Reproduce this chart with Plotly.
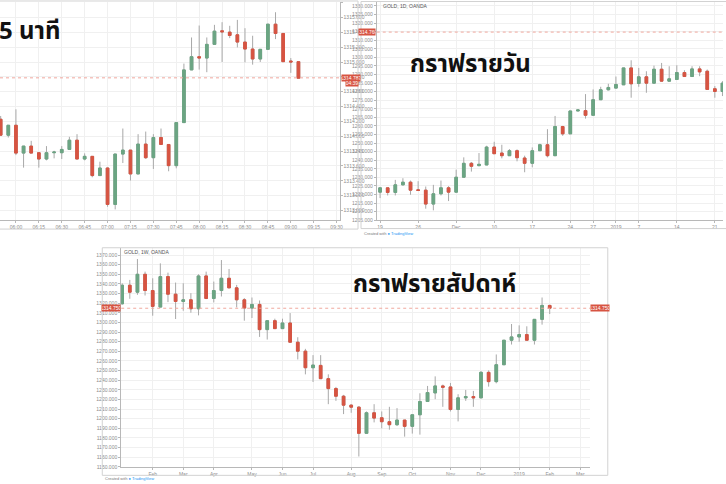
import pandas as pd
import plotly.graph_objects as go

W, H = 726, 484

# ---------------- 5-minute chart ----------------
m5_first = "2019-02-05 05:50"
m5_open = [1314.229, 1314.014, 1314.148, 1313.773, 1313.867, 1313.778, 1313.693, 1313.778, 1313.778, 1313.822,
           1313.947, 1313.693, 1313.729, 1313.470, 1313.572, 1313.081, 1313.760, 1313.813, 1313.492, 1313.894,
           1313.711, 1313.983, 1313.889, 1313.604, 1314.184, 1314.894, 1315.072, 1315.054, 1315.238, 1315.421,
           1315.403, 1315.367, 1315.269, 1315.175, 1315.041, 1315.171, 1315.510, 1315.385, 1315.014, 1315.005]
m5_high = [1314.273, 1314.148, 1314.363, 1313.867, 1313.938, 1313.778, 1313.867, 1313.804, 1313.867, 1313.992,
           1314.028, 1313.769, 1313.729, 1313.657, 1313.581, 1313.760, 1314.104, 1313.813, 1314.028, 1314.063,
           1314.028, 1314.104, 1313.889, 1314.184, 1314.979, 1315.331, 1315.492, 1315.331, 1315.501, 1315.537,
           1315.488, 1315.568, 1315.456, 1315.354, 1315.171, 1315.510, 1315.671, 1315.385, 1315.054, 1315.005]
m5_low = [1314.005, 1313.983, 1313.746, 1313.577, 1313.773, 1313.577, 1313.675, 1313.702, 1313.693, 1313.822,
          1313.693, 1313.675, 1313.447, 1313.470, 1313.050, 1313.014, 1313.639, 1313.403, 1313.492, 1313.693,
          1313.559, 1313.889, 1313.528, 1313.568, 1314.184, 1314.894, 1314.898, 1314.863, 1315.238, 1315.001,
          1315.322, 1315.197, 1314.996, 1314.965, 1315.001, 1315.171, 1315.309, 1315.005, 1314.854, 1314.782]
m5_close = [1314.014, 1314.148, 1313.773, 1313.867, 1313.773, 1313.693, 1313.778, 1313.787, 1313.822, 1313.947,
            1313.693, 1313.729, 1313.470, 1313.572, 1313.081, 1313.760, 1313.813, 1313.492, 1313.894, 1313.711,
            1313.983, 1313.889, 1313.604, 1314.184, 1314.894, 1315.072, 1315.054, 1315.238, 1315.416, 1315.407,
            1315.358, 1315.269, 1315.175, 1315.041, 1315.171, 1315.510, 1315.385, 1315.005, 1315.001, 1314.782]
m5_last_price = 1314.787
m5_countdown = "04:39"
m5_title = "5 นาที"

# ---------------- daily chart ----------------
d1_first = "2018-11-19"
d1_last = "2019-01-22"
d1_closed_days = ["2019-01-01"]
d1_open = [1221.42, 1223.93, 1221.23, 1225.67, 1227.22, 1222.77, 1222.58, 1214.47, 1220.46, 1223.93,
           1221.42, 1230.12, 1238.23, 1236.88, 1237.26, 1247.70, 1244.22, 1242.67, 1245.57, 1241.32,
           1238.23, 1245.57, 1249.05, 1242.67, 1259.68, 1255.42, 1268.76, 1268.95, 1266.24, 1275.32,
           1281.12, 1282.09, 1284.02, 1293.87, 1284.79, 1288.66, 1284.98, 1293.10, 1286.14, 1287.11,
           1291.17, 1288.85, 1293.29, 1291.94, 1281.70, 1280.15]
d1_high = [1223.93, 1223.93, 1228.57, 1229.54, 1228.18, 1227.80, 1224.71, 1225.67, 1228.18, 1224.90,
           1234.56, 1241.71, 1239.00, 1244.22, 1248.47, 1250.79, 1249.05, 1246.54, 1246.34, 1242.67,
           1247.50, 1249.63, 1258.13, 1265.86, 1260.06, 1268.76, 1269.53, 1278.61, 1281.31, 1282.86,
           1284.60, 1288.85, 1293.87, 1298.32, 1293.87, 1291.94, 1295.22, 1296.77, 1294.84, 1295.42,
           1292.52, 1294.84, 1294.84, 1292.91, 1283.25, 1286.14]
d1_low = [1217.94, 1219.49, 1219.49, 1225.29, 1219.88, 1222.39, 1211.76, 1210.80, 1219.49, 1216.21,
          1221.42, 1230.12, 1233.40, 1236.49, 1237.26, 1243.83, 1241.13, 1242.67, 1239.39, 1233.01,
          1235.91, 1245.57, 1241.71, 1242.67, 1254.27, 1255.42, 1268.76, 1264.31, 1266.24, 1275.32,
          1280.73, 1282.09, 1284.02, 1276.48, 1282.86, 1279.38, 1284.98, 1286.14, 1286.14, 1287.11,
          1288.85, 1288.85, 1289.04, 1281.31, 1276.48, 1277.45]
d1_close = [1223.93, 1221.23, 1225.67, 1227.22, 1222.58, 1222.39, 1214.47, 1220.46, 1223.93, 1221.42,
            1230.12, 1238.23, 1236.49, 1237.65, 1247.70, 1243.83, 1242.67, 1245.57, 1241.51, 1238.23,
            1245.57, 1249.05, 1242.67, 1259.68, 1255.42, 1268.76, 1269.34, 1266.24, 1275.32, 1281.12,
            1282.47, 1284.21, 1293.87, 1284.60, 1288.66, 1284.98, 1293.10, 1286.14, 1287.50, 1291.17,
            1288.85, 1293.29, 1291.55, 1281.31, 1280.15, 1284.98]
d1_tick_dates = ["2018-11-19", "2018-11-26", "2018-12-03", "2018-12-10", "2018-12-17", "2018-12-24",
                 "2018-12-27", "2019-01-02", "2019-01-07", "2019-01-14", "2019-01-21"]
d1_tick_text = ["19", "26", "Dec", "10", "17", "24", "27", "2019", "7", "14", "21"]
d1_last_price = 1314.76
d1_header = "GOLD, 1D, OANDA"
d1_title = "กราฟรายวัน"

# ---------------- weekly chart ----------------
w1_first = "2018-01-08"
w1_open = [1319.39, 1338.67, 1331.44, 1350.03, 1333.16, 1315.95, 1347.62, 1329.37, 1321.80, 1323.52,
           1314.23, 1348.31, 1324.90, 1333.16, 1345.90, 1335.92, 1323.52, 1314.92, 1318.70, 1292.54,
           1301.83, 1293.57, 1299.42, 1279.45, 1270.16, 1252.94, 1255.35, 1241.58, 1231.26, 1223.34,
           1214.04, 1211.98, 1184.78, 1206.12, 1200.96, 1196.83, 1193.73, 1198.55, 1192.01, 1204.06,
           1217.83, 1226.78, 1234.01, 1232.98, 1209.57, 1221.62, 1222.99, 1221.62, 1248.13, 1238.49,
           1256.04, 1281.52, 1284.96, 1287.37, 1281.52, 1303.21, 1317.67]
w1_high = [1340.74, 1344.18, 1365.87, 1352.79, 1345.90, 1361.39, 1351.75, 1341.42, 1340.74, 1330.41,
           1350.03, 1352.79, 1342.46, 1364.84, 1355.54, 1339.01, 1325.24, 1325.93, 1322.83, 1301.83,
           1303.90, 1303.90, 1309.75, 1284.62, 1272.57, 1266.03, 1266.03, 1246.06, 1232.98, 1224.71,
           1215.07, 1213.01, 1207.50, 1215.07, 1207.50, 1212.32, 1210.94, 1198.55, 1204.06, 1226.44,
           1234.01, 1243.99, 1235.39, 1237.11, 1225.40, 1229.88, 1228.85, 1249.50, 1250.19, 1266.72,
           1281.52, 1298.39, 1297.01, 1295.98, 1303.21, 1325.93, 1318.36]
w1_low = [1318.50, 1324.56, 1328.69, 1328.00, 1307.00, 1315.95, 1321.11, 1303.55, 1312.16, 1310.10,
          1307.34, 1324.21, 1320.77, 1326.96, 1335.92, 1315.60, 1301.83, 1304.59, 1284.96, 1282.21,
          1293.57, 1293.57, 1279.45, 1261.55, 1246.06, 1238.14, 1241.58, 1215.07, 1218.52, 1204.75,
          1206.12, 1160.68, 1184.78, 1196.14, 1189.94, 1188.56, 1192.35, 1181.33, 1184.50, 1183.40,
          1217.83, 1220.24, 1212.32, 1207.50, 1197.17, 1218.52, 1212.32, 1221.62, 1233.32, 1236.76,
          1256.04, 1277.04, 1279.80, 1281.52, 1277.04, 1297.70, 1308.72]
w1_close = [1338.67, 1331.44, 1350.03, 1333.16, 1316.64, 1347.62, 1329.37, 1321.80, 1323.52, 1314.23,
            1348.31, 1324.90, 1333.16, 1345.90, 1335.92, 1323.52, 1314.92, 1318.70, 1292.54, 1301.83,
            1293.57, 1299.42, 1279.45, 1270.16, 1252.94, 1255.70, 1241.58, 1231.26, 1223.34, 1214.04,
            1211.98, 1184.78, 1206.12, 1200.61, 1196.83, 1193.73, 1198.55, 1192.01, 1204.06, 1217.83,
            1227.12, 1234.01, 1232.63, 1209.57, 1221.62, 1222.99, 1221.62, 1248.13, 1238.49, 1256.04,
            1281.52, 1284.96, 1287.37, 1281.52, 1303.21, 1317.67, 1314.75]
w1_tick_dates = ["2018-02-05", "2018-03-05", "2018-04-02", "2018-05-07", "2018-06-04", "2018-07-02",
                 "2018-08-06", "2018-09-03", "2018-10-01", "2018-11-05", "2018-12-03", "2019-01-07",
                 "2019-02-04", "2019-03-04"]
w1_tick_text = ["Feb", "Mar", "Apr", "May", "Jun", "Jul", "Aug", "Sep", "Oct", "Nov", "Dec", "2019",
                "Feb", "Mar"]
w1_last_price = 1314.75
w1_header = "GOLD, 1W, OANDA"
w1_title = "กราฟรายสัปดาห์"

credit_text = "Created with <span style='color:#2196f3'>&#9679; TradingView</span>"

# ---------------- styling ----------------
UP = "#6ba583"
DOWN = "#d75442"
WICK = "#a8a8a8"
GRID = "#f0f0f0"
AXIS = "#b8b8b8"
TICKFONT = dict(family="Liberation Sans, Arial, sans-serif", size=5, color="#8c8c8c")
PRICE_LINE = "#f0a89e"
THAI_FONT = dict(family="Noto Sans Thai, Loma, Garuda, Tahoma, Noto Sans, DejaVu Sans, sans-serif",
                 size=24, color="#111111")


def px_x(x):
    return x / W


def px_y(y):
    return 1 - y / H


def candles(x, o, h, l, c, xa, ya):
    body_hi = [max(a, b) for a, b in zip(o, c)]
    body_lo = [min(a, b) for a, b in zip(o, c)]
    wick = go.Candlestick(
        x=x, open=o, high=h, low=l, close=c, xaxis=xa, yaxis=ya,
        increasing=dict(line=dict(color=WICK, width=1), fillcolor=UP),
        decreasing=dict(line=dict(color=WICK, width=1), fillcolor=DOWN),
        hoverinfo="skip", showlegend=False)
    body = go.Candlestick(
        x=x, open=o, high=body_hi, low=body_lo, close=c, xaxis=xa, yaxis=ya,
        increasing=dict(line=dict(color=UP, width=1), fillcolor=UP),
        decreasing=dict(line=dict(color=DOWN, width=1), fillcolor=DOWN),
        hoverinfo="skip", showlegend=False)
    return [wick, body]


m5_x = pd.date_range(m5_first, periods=len(m5_open), freq="5min")
d1_days = pd.bdate_range(d1_first, d1_last)
d1_days = d1_days[~d1_days.isin(pd.to_datetime(d1_closed_days))]
d1_x = [d.strftime("%Y-%m-%d") for d in d1_days]
w1_x = pd.date_range(w1_first, periods=len(w1_open), freq="7D")

fig = go.Figure()
for t in candles(m5_x, m5_open, m5_high, m5_low, m5_close, "x", "y"):
    fig.add_trace(t)
for t in candles(d1_x, d1_open, d1_high, d1_low, d1_close, "x2", "y2"):
    fig.add_trace(t)
for t in candles(w1_x, w1_open, w1_high, w1_low, w1_close, "x3", "y3"):
    fig.add_trace(t)

step5 = pd.Timedelta(minutes=5)
week = pd.Timedelta(days=7)
m5_t0 = pd.Timestamp(m5_first)
w1_t0 = pd.Timestamp(w1_first)

base_x = dict(showgrid=True, gridcolor=GRID, gridwidth=1, showline=True, linecolor=AXIS, linewidth=1,
              ticks="outside", ticklen=2, tickcolor=AXIS, tickfont=TICKFONT, zeroline=False,
              rangeslider=dict(visible=False), fixedrange=True)
base_y = dict(showgrid=True, gridcolor=GRID, gridwidth=1, showline=True, linecolor=AXIS, linewidth=1,
              ticks="outside", ticklen=2, tickcolor=AXIS, tickfont=TICKFONT, zeroline=False,
              tickformat=".3f", fixedrange=True)

fig.update_layout(
    width=W, height=H, autosize=False,
    margin=dict(l=0, r=0, t=0, b=0),
    paper_bgcolor="white", plot_bgcolor="white",
    showlegend=False, boxgap=0.5, hovermode=False,
    xaxis=dict(base_x, domain=[0, px_x(341)], anchor="y", type="date",
               range=[m5_t0 - 0.087 * step5, m5_t0 + 44.39 * step5],
               tickformat="%H:%M", dtick=15 * 60 * 1000, tick0=m5_t0.normalize()),
    yaxis=dict(base_y, domain=[px_y(221.7), px_y(2)], anchor="x", side="right",
               range=[1312.867, 1315.809], dtick=0.2, tick0=1313.0),
    xaxis2=dict(base_x, domain=[px_x(378.3), 1.0], anchor="y2", type="category",
                range=[-0.44, 45.07], tickmode="array", tickvals=d1_tick_dates, ticktext=d1_tick_text),
    yaxis2=dict(base_y, domain=[px_y(221.7), px_y(1.7)], anchor="x2", side="left",
                range=[1204.98, 1332.49], dtick=5, tick0=1330),
    xaxis3=dict(base_x, domain=[px_x(121.7), px_x(592.7)], anchor="y3", type="date",
                range=[w1_t0 - 0.127 * week, w1_t0 + 61.31 * week],
                tickmode="array", tickvals=w1_tick_dates, ticktext=w1_tick_text),
    yaxis3=dict(base_y, domain=[px_y(470), px_y(249.3)], anchor="x3", side="left",
                range=[1149.7, 1377.6], dtick=10, tick0=1150),
    yaxis4=dict(base_y, overlaying="y3", anchor="x3", side="right", showgrid=False,
                range=[1149.7, 1377.6], dtick=10, tick0=1150),
)

frame = dict(color="#d2d2d2", width=1)
shapes = [
    # panel frames
    dict(type="line", xref="paper", yref="paper", x0=0, x1=px_x(359.5), y0=px_y(1), y1=px_y(1), line=frame),
    dict(type="line", xref="paper", yref="paper", x0=px_x(359.5), x1=px_x(359.5), y0=px_y(1), y1=px_y(230.5), line=frame),
    dict(type="line", xref="paper", yref="paper", x0=0, x1=px_x(359.5), y0=px_y(230.5), y1=px_y(230.5), line=frame),
    dict(type="rect", xref="paper", yref="paper", x0=px_x(362.5), x1=px_x(740), y0=px_y(230), y1=px_y(1.5), line=frame),
    dict(type="rect", xref="paper", yref="paper", x0=px_x(102.7), x1=px_x(610.3), y0=px_y(478.3), y1=px_y(249.3), line=frame),
    # last-price lines
    dict(type="line", xref="x domain", yref="y", x0=0, x1=1, y0=m5_last_price, y1=m5_last_price,
         line=dict(color=PRICE_LINE, width=1, dash="dot")),
    dict(type="line", xref="x2 domain", yref="y2", x0=0, x1=1, y0=d1_last_price, y1=d1_last_price,
         line=dict(color=PRICE_LINE, width=1, dash="dot")),
    dict(type="line", xref="x3 domain", yref="y3", x0=0, x1=1, y0=w1_last_price, y1=w1_last_price,
         line=dict(color=PRICE_LINE, width=1, dash="dot")),
]
fig.update_layout(shapes=shapes)

lab_font = dict(family="Liberation Sans, Arial, sans-serif", size=5, color="white")


def price_tag(x, xanchor, yref, value, text=None, w=18, yshift=0):
    return dict(x=x, xref="paper", y=value, yref=yref, xanchor=xanchor, yanchor="middle",
                text=text if text is not None else f"{value:.3f}", showarrow=False,
                bgcolor=DOWN, font=lab_font, width=w, height=6, borderpad=0, yshift=yshift)


annotations = [
    price_tag(px_x(342), "left", "y", m5_last_price),
    price_tag(px_x(360), "right", "y", m5_last_price, text=m5_countdown, w=12, yshift=-5.5),
    price_tag(px_x(378), "right", "y2", d1_last_price, w=16),
    price_tag(px_x(121.7), "right", "y3", w1_last_price),
    price_tag(px_x(592.7), "left", "y3", w1_last_price),
    dict(x=px_x(383), y=px_y(6), xref="paper", yref="paper", xanchor="left", yanchor="middle",
         text=d1_header, showarrow=False, font=dict(family="Liberation Sans, Arial", size=5, color="#555555")),
    dict(x=px_x(123), y=px_y(254), xref="paper", yref="paper", xanchor="left", yanchor="middle",
         text=w1_header, showarrow=False, font=dict(family="Liberation Sans, Arial", size=5, color="#555555")),
    dict(x=px_x(363), y=px_y(234.5), xref="paper", yref="paper", xanchor="left", yanchor="middle",
         text=credit_text, showarrow=False, font=dict(family="Liberation Sans, Arial", size=4, color="#777777")),
    dict(x=px_x(103), y=px_y(481), xref="paper", yref="paper", xanchor="left", yanchor="middle",
         text=credit_text, showarrow=False, font=dict(family="Liberation Sans, Arial", size=4, color="#777777")),
    dict(x=px_x(-3), y=px_y(32), xref="paper", yref="paper", xanchor="left", yanchor="middle",
         text="<b>" + m5_title + "</b>", showarrow=False, font=THAI_FONT),
    dict(x=px_x(410), y=px_y(65), xref="paper", yref="paper", xanchor="left", yanchor="middle",
         text="<b>" + d1_title + "</b>", showarrow=False, font=THAI_FONT),
    dict(x=px_x(352), y=px_y(287), xref="paper", yref="paper", xanchor="left", yanchor="middle",
         text="<b>" + w1_title + "</b>", showarrow=False, font=THAI_FONT),
]
fig.update_layout(annotations=annotations)

fig.write_html("out.html", config=dict(displayModeBar=False, staticPlot=True),
               post_script="document.body.style.margin='0';document.body.style.padding='0';")
